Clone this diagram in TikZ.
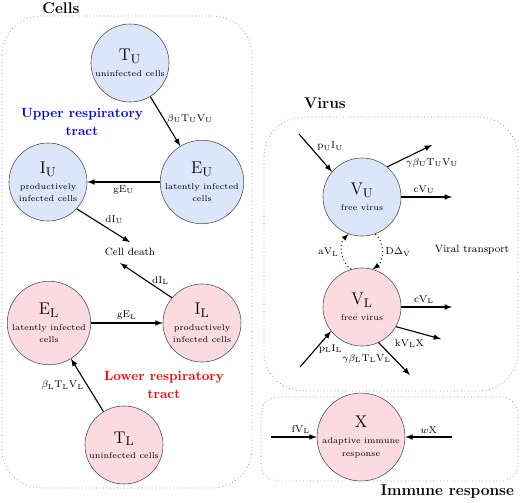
\documentclass[tikz,border=0pt]{standalone}
\usepackage{amsmath,amssymb}
\usetikzlibrary{arrows}
\definecolor{upperfill}{RGB}{219,230,250}
\definecolor{lowerfill}{RGB}{251,219,225}
\newcommand{\compname}[1]{{\fontsize{12.5}{12.5}\selectfont$\mathrm{#1}$}}

\begin{document}
\begin{tikzpicture}[x=0.025cm,y=-0.025cm,
  upper/.style={circle,draw=black!70,fill=upperfill,minimum size=1.95cm,inner sep=0pt,align=center,font=\fontsize{6}{9}\selectfont},
  lower/.style={circle,draw=black!70,fill=lowerfill,minimum size=1.95cm,inner sep=0pt,align=center,font=\fontsize{6}{9}\selectfont},
  flow/.style={->,>=latex,line width=0.8pt},
  transport/.style={->,>=latex,dotted,line width=0.7pt},
  frame/.style={draw=black!45,dotted,line width=0.5pt},
  rate/.style={font=\fontsize{7.5}{9}\selectfont,inner sep=2pt},
  title/.style={font=\fontsize{11}{13}\selectfont\bfseries},
  region/.style={font=\fontsize{9.5}{12.5}\selectfont\bfseries,align=center}]
\useasboundingbox (0,0) rectangle (520,502);

% frames
\draw[frame,rounded corners=28pt] (2,16) rectangle (252,488);
\draw[frame,rounded corners=28pt] (264,117) rectangle (518,391);
\draw[frame,rounded corners=12pt] (261,397) rectangle (518,481);
\node[title] (cellstitle) at (61,8) {Cells};
\node[title] (virustitle) at (325,103) {Virus};
\node[title,anchor=east] (immunetitle) at (519,492) {Immune response};

% cells
\node[upper] (TU) at (130,63) {\compname{T_U}\\[2pt]uninfected cells};
\node[upper] (EU) at (202,182) {\compname{E_U}\\[2pt]latently infected\\cells};
\node[upper] (IU) at (48,182) {\compname{I_U}\\[2pt]productively\\infected cells};
\node[rate] (death) at (130,252) {Cell death};
\node[lower] (EL) at (49,323) {\compname{E_L}\\[2pt]latently infected\\cells};
\node[lower] (IL) at (202,323) {\compname{I_L}\\[2pt]productively\\infected cells};
\node[lower] (TL) at (124,445) {\compname{T_L}\\[2pt]uninfected cells};
\node[region,text=blue] (uppertract) at (82,122) {Upper respiratory\\tract};
\node[region,text=red] (lowertract) at (164,385) {Lower respiratory\\tract};

\draw[flow] (TU) -- node[rate,pos=0.45,right] {$\beta_\mathrm{U}\mathrm{T_UV_U}$} (EU);
\draw[flow] (EU) -- node[rate,below] {$\mathrm{gE_U}$} (IU);
\draw[flow] (IU.-43) -- node[rate,above right=-1pt] {$\mathrm{dI_U}$} ([yshift=2pt]death.north);
\draw[flow] (IL.140) -- node[rate,right=2pt] {$\mathrm{dI_L}$} ([xshift=-7pt,yshift=-3pt]death.south);
\draw[flow] (EL) -- node[rate,above] {$\mathrm{gE_L}$} (IL);
\draw[flow] (TL) -- node[rate,left] {$\beta_\mathrm{L}\mathrm{T_LV_L}$} (EL);

% virus
\node[upper] (VU) at (362,197) {\compname{V_U}\\[2pt]free virus};
\node[lower] (VL) at (362,307) {\compname{V_L}\\[2pt]free virus};
\node[rate] (viraltransport) at (472,250) {Viral transport};
\coordinate (pUin) at (299,134);
\coordinate (gammaUout) at (432,145);
\coordinate (cUout) at (452,197);
\coordinate (cLout) at (452,307);
\coordinate (kout) at (441,339);
\coordinate (gammaLout) at (410,375);
\coordinate (pLin) at (300,367);

\draw[flow] (pUin) -- node[rate,above right=-1pt] {$\mathrm{p_UI_U}$} (VU.140);
\draw[flow] (VU.50) -- (gammaUout) node[rate,below=7pt] {$\gamma\beta_\mathrm{U}\mathrm{T_UV_U}$};
\draw[flow] (VU) -- node[rate,pos=0.45,above] {$\mathrm{cV_U}$} (cUout);
\draw[flow] (VL) -- node[rate,pos=0.45,above] {$\mathrm{cV_L}$} (cLout);
\draw[flow] (VL.-30) -- node[rate,pos=0.3,below=4pt] {$\mathrm{kV_LX}$} (kout);
\draw[flow] (VL.-65) -- node[rate,left] {$\gamma\beta_\mathrm{L}\mathrm{T_LV_L}$} (gammaLout);
\draw[flow] (pLin) -- node[rate,right] {$\mathrm{p_LI_L}$} (VL.218);
\draw[transport] (VL.106) to[bend left=50] node[rate,left] {$\mathrm{aV_L}$} (VU.250);
\draw[transport] (VU.290) to[bend left=50] node[rate,right] {$\mathrm{D}\Delta_\mathrm{V}$} (VL.74);

% immune response
\node[lower] (X) at (361,437) {\compname{X}\\[2pt]adaptive immune\\response};
\coordinate (fin) at (271,437);
\coordinate (wout) at (452,437);
\draw[flow] (fin) -- node[rate,above,pos=0.65] {$\mathrm{fV_L}$} (X);
\draw[flow] (wout) -- node[rate,above] {$w\mathrm{X}$} (X);
\end{tikzpicture}
\end{document}
